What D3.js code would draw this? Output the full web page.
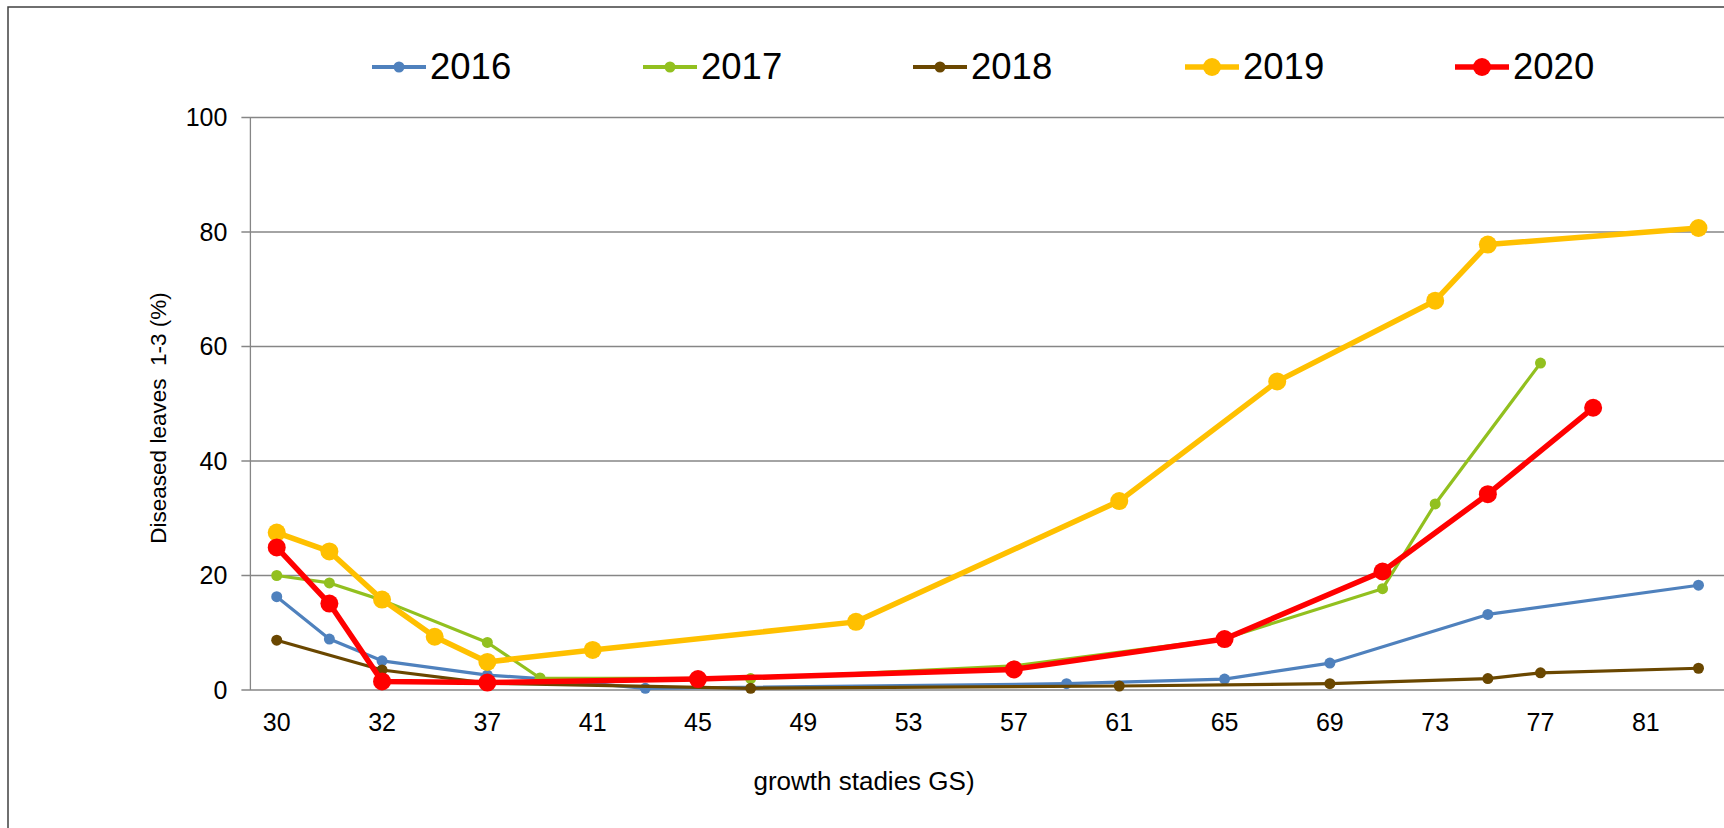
<!DOCTYPE html>
<html><head><meta charset="utf-8">
<script src="https://cdn.jsdelivr.net/npm/d3@7/dist/d3.min.js"></script>
<style>html,body{margin:0;padding:0;background:#fff;overflow:hidden}svg{display:block;font-family:"Liberation Sans",Arial,sans-serif}</style>
</head><body>
<svg id="c" width="1724" height="828"></svg>
<script>
const categories = ["30","31","32","34","37","39","41","43","45","47","49","51","53","55","57","59","61","63","65","67","69","71","73","75","77","79","81","83"];
const tickLabels = ["30","32","37","41","45","49","53","57","61","65","69","73","77","81"];
const yTicks = [0,20,40,60,80,100];
const years = ["2016","2017","2018","2019","2020"];
const s2016 = [["30",16.3],["31",8.9],["32",5.1],["37",2.6],["39",2.0],["43",0.3],["59",1.1],["65",1.9],["69",4.7],["75",13.2],["83",18.3]];
const s2017 = [["30",20.0],["31",18.7],["32",15.7],["37",8.3],["39",2.1],["47",2.0],["57",4.2],["65",9.0],["71",17.7],["73",32.5],["77",57.1]];
const s2018 = [["30",8.7],["32",3.5],["37",1.2],["47",0.3],["61",0.7],["69",1.1],["75",2.0],["77",3.0],["83",3.8]];
const s2019 = [["30",27.5],["31",24.2],["32",15.8],["34",9.3],["37",4.9],["41",7.0],["51",11.9],["61",33.0],["67",53.9],["73",68.0],["75",77.8],["83",80.7]];
const s2020 = [["30",24.9],["31",15.1],["32",1.5],["37",1.3],["45",1.9],["57",3.6],["65",8.9],["71",20.7],["75",34.2],["79",49.3]];
const seriesData = [s2016,s2017,s2018,s2019,s2020];

(function(){
const colors = ["#4F81BD","#92C01F","#6A4700","#FFC000","#FF0000"];
const lineW = [3.2,3.2,3.2,5.5,5.5];
const markR = [5.5,5.5,5.5,9,9];
const FONT = "Liberation Sans, Arial, sans-serif";

const svg = d3.select("#c");
svg.append("rect").attr("x",8).attr("y",7).attr("width",1760).attr("height",900)
  .attr("fill","none").attr("stroke","#404040").attr("stroke-width",1.5);

const pL = 250.4, pR = 1724.8, pT = 117.5, pB = 690;
const x = d3.scaleBand().domain(categories).range([pL,pR]);
const y = d3.scaleLinear().domain([0,100]).range([pB,pT]);

svg.append("g").selectAll("line").data(yTicks).join("line")
  .attr("x1",pL-9).attr("x2",pR+10).attr("y1",d=>y(d)).attr("y2",d=>y(d))
  .attr("stroke","#868686").attr("stroke-width",1.3);
svg.append("line").attr("x1",pL).attr("x2",pL).attr("y1",pT).attr("y2",pB)
  .attr("stroke","#868686").attr("stroke-width",1.3);

const yAxis = d3.axisLeft(y).tickValues(yTicks).tickSize(0).tickPadding(23);
const ga = svg.append("g").attr("transform",`translate(${pL},0)`).call(yAxis);
ga.select(".domain").remove();
ga.selectAll("text").attr("font-size",25).attr("fill","#000").attr("font-family",FONT);

const xAxis = d3.axisBottom(x).tickValues(tickLabels).tickSize(0).tickPadding(23);
const gx = svg.append("g").attr("transform",`translate(0,${pB})`).call(xAxis);
gx.select(".domain").remove();
gx.selectAll("text").attr("font-size",25).attr("fill","#000").attr("font-family",FONT);

svg.append("text").attr("transform",`translate(165.5,418) rotate(-90)`).attr("text-anchor","middle")
  .style("white-space","pre").attr("font-size",22.5).text("Diseased leaves  1-3 (%)");
svg.append("text").attr("x",864).attr("y",790).attr("text-anchor","middle")
  .attr("font-size",26).text("growth stadies GS)");

const line = d3.line().x(d=>x(d[0])+x.bandwidth()/2).y(d=>y(d[1]));
seriesData.forEach((s,i)=>{
  const g = svg.append("g");
  g.append("path").datum(s).attr("d",line).attr("fill","none")
    .attr("stroke",colors[i]).attr("stroke-width",lineW[i]).attr("stroke-linejoin","round");
  g.selectAll("circle").data(s).join("circle")
    .attr("cx",d=>x(d[0])+x.bandwidth()/2).attr("cy",d=>y(d[1])).attr("r",markR[i]).attr("fill",colors[i]);
});

const legX = [372,643,913,1185,1455];
const lg = svg.append("g");
years.forEach((yr,i)=>{
  const cy = 67;
  lg.append("line").attr("x1",legX[i]).attr("x2",legX[i]+54).attr("y1",cy).attr("y2",cy)
    .attr("stroke",colors[i]).attr("stroke-width",i<3?4:5.5);
  lg.append("circle").attr("cx",legX[i]+27).attr("cy",cy).attr("r",markR[i]).attr("fill",colors[i]);
  lg.append("text").attr("x",legX[i]+58).attr("y",78.5).attr("font-size",36.5).text(yr);
});
})();
</script>
</body></html>
